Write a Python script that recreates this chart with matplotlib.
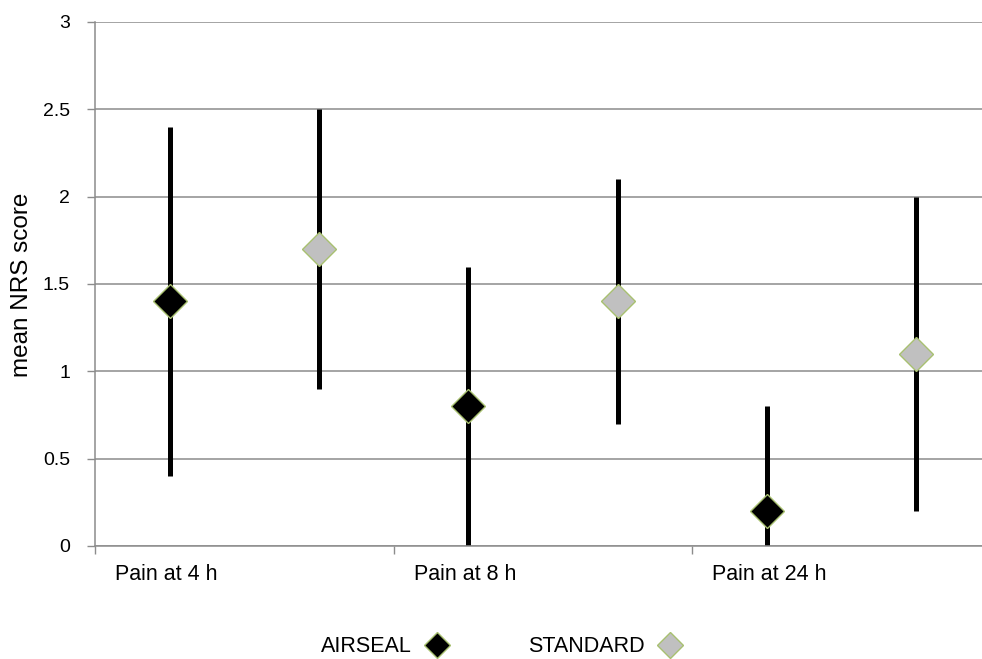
import matplotlib
import matplotlib.pyplot as plt
from matplotlib.lines import Line2D

matplotlib.rcParams["font.family"] = ["Liberation Sans", "DejaVu Sans"]

categories = ["Pain at 4 h", "Pain at 8 h", "Pain at 24 h"]

airseal_mean = [1.4, 0.8, 0.2]
airseal_low = [0.4, 0.0, 0.0]
airseal_high = [2.4, 1.6, 0.8]

standard_mean = [1.7, 1.4, 1.1]
standard_low = [0.9, 0.7, 0.2]
standard_high = [2.5, 2.1, 2.0]

y_ticks = [0, 0.5, 1, 1.5, 2, 2.5, 3]
y_tick_labels = ["0", "0.5", "1", "1.5", "2", "2.5", "3"]

grid_col = "#8c8c8c"
edge_col = "#a8c070"

fig = plt.figure(figsize=(9.82, 6.59), dpi=100)
ax = fig.add_axes([95 / 982, 113 / 659, (991 - 95) / 982, (546 - 22) / 659])

n = len(categories)
x_air = [i + 0.25 for i in range(n)]
x_std = [i + 0.75 for i in range(n)]

ax.vlines(x_air, airseal_low, airseal_high, color="black", linewidth=3.6, zorder=2)
ax.vlines(x_std, standard_low, standard_high, color="black", linewidth=3.6, zorder=2)
ax.plot(x_air, airseal_mean, linestyle="none", marker="D", markersize=17.5,
        markerfacecolor="black", markeredgecolor=edge_col, markeredgewidth=1, zorder=3)
ax.plot(x_std, standard_mean, linestyle="none", marker="D", markersize=17.5,
        markerfacecolor="#c0c0c0", markeredgecolor=edge_col, markeredgewidth=1, zorder=3)

ax.set_xlim(0, n)
ax.set_ylim(0, 3)
ax.set_yticks(y_ticks)
ax.set_yticklabels(y_tick_labels, fontsize=14)
ax.yaxis.grid(True, color=grid_col, linewidth=1.1)
ax.set_axisbelow(True)

ax.set_xticks(range(n + 1))
ax.set_xticklabels([])
ax.tick_params(axis="x", length=6, color=grid_col, width=1)
ax.tick_params(axis="y", length=6, color=grid_col, width=1, pad=12)

for i, cat in enumerate(categories):
    ax.text(i + 0.067, -0.165, cat, fontsize=15.5, ha="left", va="center")

for side in ["top", "right"]:
    ax.spines[side].set_visible(False)
for side in ["left", "bottom"]:
    ax.spines[side].set_color(grid_col)
    ax.spines[side].set_linewidth(1.1)

fig.text(22 / 982, 1 - 285 / 659, "mean NRS score", fontsize=17.5,
         rotation=90, ha="center", va="center")

handles = [
    Line2D([], [], linestyle="none", marker="D", markersize=13,
           markerfacecolor="black", markeredgecolor=edge_col),
    Line2D([], [], linestyle="none", marker="D", markersize=13,
           markerfacecolor="#c0c0c0", markeredgecolor=edge_col),
]
fig.legend(handles, ["AIRSEAL", "STANDARD"], loc="center",
           bbox_to_anchor=(502 / 982, 12 / 659), ncol=2, frameon=False,
           markerfirst=False, fontsize=15.5, columnspacing=3.6,
           handlelength=1.2, handletextpad=0.6, borderpad=0)

fig.savefig("out.png", dpi=100)
